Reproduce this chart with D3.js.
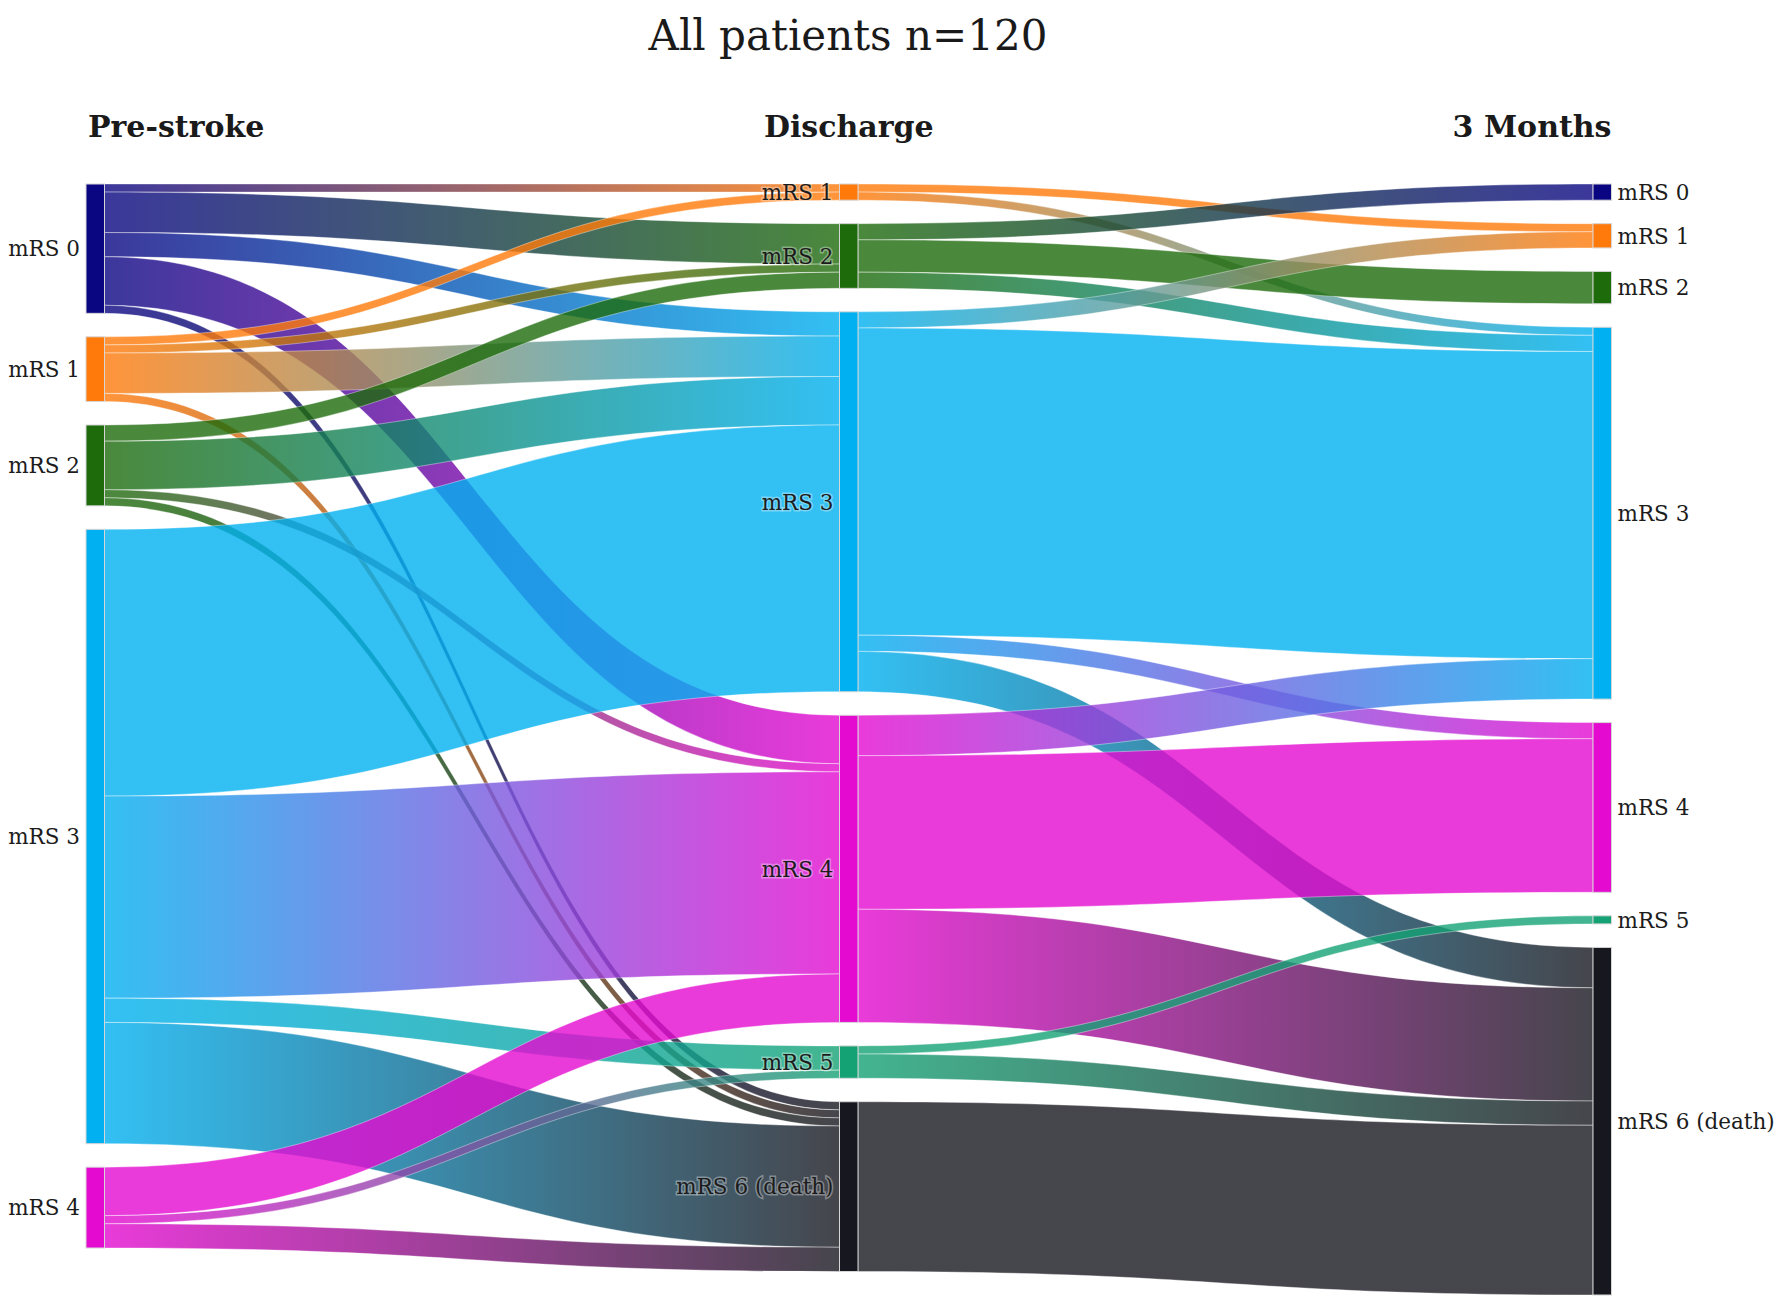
<!DOCTYPE html>
<html><head><meta charset="utf-8">
<script src="https://cdn.jsdelivr.net/npm/d3@7"></script>
<style>body{margin:0;background:#fff} svg{display:block}</style>
</head><body>
<svg id="chart" width="1784" height="1305"></svg>
<script>
// ---------- data ----------
const chartTitle = "All patients n=120";
const stages = ["Pre-stroke", "Discharge", "3 Months"];
const preStrokeNodes = ["mRS 0", "mRS 1", "mRS 2", "mRS 3", "mRS 4"];
const dischargeNodes = ["mRS 1", "mRS 2", "mRS 3", "mRS 4", "mRS 5", "mRS 6 (death)"];
const monthNodes = ["mRS 0", "mRS 1", "mRS 2", "mRS 3", "mRS 4", "mRS 5", "mRS 6 (death)"];
const mrsNames = ["mRS 0", "mRS 1", "mRS 2", "mRS 3", "mRS 4", "mRS 5", "mRS 6 (death)"];
const mrsColors = ["#0a0682", "#ff7a0a", "#1d6b0b", "#00b0f0", "#e40ad0", "#14a274", "#17171f"];
// [from, to, patients]
const preToDischarge = [
  ["mRS 0", "mRS 1", 1], ["mRS 0", "mRS 2", 5], ["mRS 0", "mRS 3", 3], ["mRS 0", "mRS 4", 6], ["mRS 0", "mRS 6 (death)", 1],
  ["mRS 1", "mRS 1", 1], ["mRS 1", "mRS 2", 1], ["mRS 1", "mRS 3", 5], ["mRS 1", "mRS 6 (death)", 1],
  ["mRS 2", "mRS 2", 2], ["mRS 2", "mRS 3", 6], ["mRS 2", "mRS 4", 1], ["mRS 2", "mRS 6 (death)", 1],
  ["mRS 3", "mRS 3", 33], ["mRS 3", "mRS 4", 25], ["mRS 3", "mRS 5", 3], ["mRS 3", "mRS 6 (death)", 15],
  ["mRS 4", "mRS 4", 6], ["mRS 4", "mRS 5", 1], ["mRS 4", "mRS 6 (death)", 3]
];
const dischargeToMonths = [
  ["mRS 1", "mRS 1", 1], ["mRS 1", "mRS 3", 1],
  ["mRS 2", "mRS 0", 2], ["mRS 2", "mRS 2", 4], ["mRS 2", "mRS 3", 2],
  ["mRS 3", "mRS 1", 2], ["mRS 3", "mRS 3", 38], ["mRS 3", "mRS 4", 2], ["mRS 3", "mRS 6 (death)", 5],
  ["mRS 4", "mRS 3", 5], ["mRS 4", "mRS 4", 19], ["mRS 4", "mRS 6 (death)", 14],
  ["mRS 5", "mRS 5", 1], ["mRS 5", "mRS 6 (death)", 3],
  ["mRS 6 (death)", "mRS 6 (death)", 21]
];
const totalPatients = 120;

// ---------- layout ----------
const topY = 184, nodePad = 23.5, nodeW = 18.5;
const color = d3.scaleOrdinal().domain(mrsNames).range(mrsColors);
const xScale = d3.scalePoint().domain(stages).range([86, 1593]);
const kScale = d3.scaleLinear().domain([0, totalPatients]).range([0, 970]);

const columns = [preStrokeNodes, dischargeNodes, monthNodes];
const nodes = [];
const byId = new Map();
columns.forEach((names, c) => names.forEach((name, i) => {
  const n = {id: c + "|" + name, name, col: c, idx: i, inL: [], outL: [], vin: 0, vout: 0};
  nodes.push(n); byId.set(n.id, n);
}));
const links = [];
[preToDischarge, dischargeToMonths].forEach((flows, c) => flows.forEach(([s, t, v]) => {
  const src = byId.get(c + "|" + s), tgt = byId.get((c + 1) + "|" + t);
  const l = {source: src, target: tgt, value: v};
  links.push(l); src.outL.push(l); tgt.inL.push(l); src.vout += v; tgt.vin += v;
}));
columns.forEach((names, c) => {
  let y = topY;
  names.forEach(name => {
    const n = byId.get(c + "|" + name);
    n.value = Math.max(n.vin, n.vout);
    n.x0 = xScale(stages[c]); n.x1 = n.x0 + nodeW;
    n.y0 = y; n.y1 = y + kScale(n.value); y = n.y1 + nodePad;
  });
});
nodes.forEach(n => {
  let sy = n.y0;
  n.outL.sort((a, b) => a.target.y0 - b.target.y0).forEach(l => { l.sy0 = sy; sy += kScale(l.value); l.sy1 = sy; });
  let ty = n.y0;
  n.inL.sort((a, b) => a.source.y0 - b.source.y0).forEach(l => { l.ty0 = ty; ty += kScale(l.value); l.ty1 = ty; });
});

// ---------- draw ----------
const svg = d3.select("#chart");
const defs = svg.append("defs");
const font = "'DejaVu Serif', 'Liberation Serif', serif";

links.forEach((l, i) => {
  const g = defs.append("linearGradient").attr("id", "lg" + i)
    .attr("gradientUnits", "userSpaceOnUse")
    .attr("x1", l.source.x1).attr("x2", l.target.x0).attr("y1", 0).attr("y2", 0);
  g.append("stop").attr("offset", "0%").attr("stop-color", color(l.source.name));
  g.append("stop").attr("offset", "100%").attr("stop-color", color(l.target.name));
});

function linkPath(l) {
  const x0 = l.source.x1, x1 = l.target.x0, xm = (x0 + x1) / 2;
  return `M${x0},${l.sy0}C${xm},${l.sy0} ${xm},${l.ty0} ${x1},${l.ty0}` +
         `L${x1},${l.ty1}C${xm},${l.ty1} ${xm},${l.sy1} ${x0},${l.sy1}Z`;
}

svg.append("g").selectAll("path").data(links).join("path")
  .attr("d", linkPath)
  .attr("fill", (d, i) => `url(#lg${i})`)
  .attr("fill-opacity", 0.8)
  .attr("stroke", "#ffffff").attr("stroke-opacity", 0.55).attr("stroke-width", 0.7);

svg.append("g").selectAll("rect").data(nodes).join("rect")
  .attr("x", d => d.x0).attr("y", d => d.y0)
  .attr("width", d => d.x1 - d.x0).attr("height", d => d.y1 - d.y0)
  .attr("fill", d => color(d.name))
  .attr("stroke", "#d6d6d6").attr("stroke-width", 1);

svg.append("g").selectAll("text").data(nodes).join("text")
  .attr("x", d => d.col === 2 ? d.x1 + 6 : d.x0 - 6)
  .attr("y", d => (d.y0 + d.y1) / 2)
  .attr("dy", "0.36em")
  .attr("text-anchor", d => d.col === 2 ? "start" : "end")
  .attr("font-family", font).attr("font-size", 21.5).attr("fill", "#1c1c1c")
  .attr("stroke", "#fff").attr("stroke-opacity", 0.35).attr("stroke-width", 3)
  .attr("paint-order", "stroke")
  .text(d => d.name);

svg.append("text").attr("x", 848).attr("y", 50).attr("text-anchor", "middle")
  .attr("font-family", font).attr("font-size", 42).attr("fill", "#1a1a1a").text(chartTitle);

svg.append("g").selectAll("text").data(stages).join("text")
  .attr("x", (d, i) => i === 0 ? xScale(d) + 2 : i === 1 ? xScale(d) + nodeW / 2 : xScale(d) + nodeW)
  .attr("y", 137)
  .attr("text-anchor", (d, i) => ["start", "middle", "end"][i])
  .attr("font-family", font).attr("font-size", 30).attr("font-weight", "bold").attr("fill", "#1a1a1a")
  .text(d => d);
</script>
</body></html>
